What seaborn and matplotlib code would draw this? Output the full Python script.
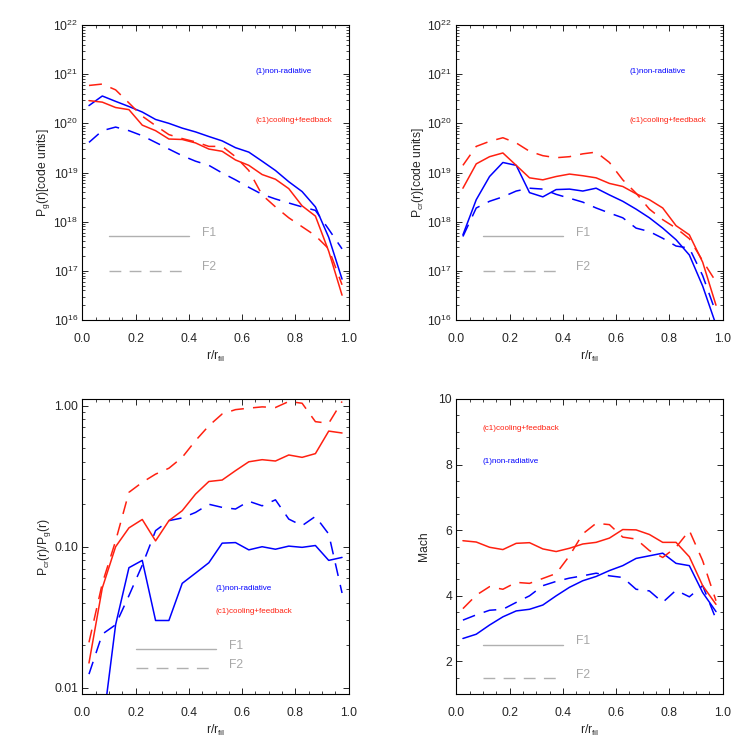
import numpy as np
import pandas as pd
import seaborn as sns
import matplotlib
matplotlib.use("Agg")
import matplotlib.pyplot as plt
from matplotlib.ticker import MultipleLocator, FixedLocator, FormatStrFormatter, LogLocator, NullFormatter

# radio normalizado (centros de bin)
r = [0.025, 0.075, 0.125, 0.175, 0.225, 0.275, 0.325, 0.375, 0.425, 0.475,
     0.525, 0.575, 0.625, 0.675, 0.725, 0.775, 0.825, 0.875, 0.925, 0.975]

# P_g(r)
pg_nr_f1 = [2.3e20, 3.6e20, 2.8e20, 2.2e20, 1.7e20, 1.2e20, 1.0e20, 8.0e19, 6.7e19, 5.4e19,
            4.4e19, 3.2e19, 2.6e19, 1.7e19, 1.1e19, 6.5e18, 4.1e18, 2.0e18, 4.8e17, 6.8e16]
pg_nr_f2 = [4.1e19, 7.1e19, 8.4e19, 7.1e19, 5.6e19, 4.1e19, 3.0e19, 2.2e19, 1.7e19, 1.4e19,
            9.8e18, 7.1e18, 5.0e18, 3.6e18, 2.9e18, 2.4e18, 2.0e18, 1.7e18, 7.0e17, 2.8e17]
pg_cf_f1 = [2.9e20, 2.7e20, 2.1e20, 1.9e20, 9.2e19, 7.1e19, 4.8e19, 4.7e19, 4.0e19, 3.0e19,
            2.7e19, 1.8e19, 1.4e19, 9.1e18, 7.3e18, 4.7e18, 2.1e18, 1.3e18, 2.5e17, 3.2e16]
pg_cf_f2 = [5.9e20, 6.3e20, 4.8e20, 2.6e20, 1.4e20, 9.0e19, 5.9e19, 4.9e19, 4.2e19, 3.4e19,
            3.4e19, 2.1e19, 1.1e19, 3.5e18, 2.0e18, 1.2e18, 7.9e17, 5.2e17, 2.8e17, 5.2e16]

# P_cr(r)
pcr_nr_f1 = [5.4e17, 2.8e18, 8.3e18, 1.6e19, 1.4e19, 3.9e18, 3.2e18, 4.5e18, 4.6e18, 4.2e18,
             4.8e18, 3.5e18, 2.6e18, 1.8e18, 1.2e18, 7.4e17, 4.3e17, 2.1e17, 4.9e16, 8.0e15]
pcr_nr_f2 = [5.0e17, 1.9e18, 2.6e18, 3.2e18, 4.2e18, 4.8e18, 4.6e18, 3.6e18, 3.0e18, 2.5e18,
             1.9e18, 1.5e18, 1.2e18, 7.4e17, 6.3e17, 4.6e17, 3.2e17, 2.9e17, 8.0e16, 1.4e16]
pcr_cf_f1 = [4.8e18, 1.5e19, 2.1e19, 2.5e19, 1.4e19, 7.8e18, 7.1e18, 8.3e18, 9.3e18, 8.6e18,
             7.8e18, 6.0e18, 5.2e18, 3.7e18, 2.8e18, 1.9e18, 8.3e17, 5.4e17, 1.5e17, 2.0e16]
pcr_cf_f2 = [1.4e19, 3.4e19, 4.3e19, 5.1e19, 4.0e19, 2.7e19, 2.2e19, 2.0e19, 2.1e19, 2.4e19,
             2.6e19, 1.6e19, 7.1e18, 3.8e18, 1.8e18, 1.1e18, 7.4e17, 4.5e17, 1.6e17, 6.0e16]

# P_cr/P_g
rat_nr_f1 = [np.nan, 0.005, 0.028, 0.071, 0.080, 0.030, 0.030, 0.055, 0.065, 0.077,
             0.106, 0.107, 0.095, 0.100, 0.096, 0.101, 0.099, 0.102, 0.080, 0.084]
rat_nr_f2 = [0.0125, 0.024, 0.028, 0.045, 0.074, 0.130, 0.153, 0.160, 0.175, 0.200,
             0.190, 0.185, 0.210, 0.195, 0.215, 0.157, 0.141, 0.164, 0.123, 0.047]
rat_cf_f1 = [0.015, 0.051, 0.100, 0.136, 0.156, 0.110, 0.153, 0.180, 0.236, 0.290,
             0.297, 0.346, 0.400, 0.414, 0.405, 0.447, 0.430, 0.457, 0.660, 0.640]
rat_cf_f2 = [0.021, 0.055, 0.110, 0.243, 0.286, 0.327, 0.360, 0.430, 0.565, 0.720,
             0.873, 0.937, 0.960, 0.980, 0.970, 1.070, 1.040, 0.770, 0.750, 1.070]

# Mach
mach_nr_f1 = [2.70, 2.83, 3.11, 3.36, 3.54, 3.59, 3.72, 4.00, 4.26, 4.46,
              4.59, 4.77, 4.92, 5.14, 5.22, 5.30, 4.99, 4.92, 4.10, 3.52]
mach_nr_f2 = [3.26, 3.42, 3.56, 3.59, 3.80, 4.00, 4.31, 4.44, 4.54, 4.61,
              4.69, 4.61, 4.56, 4.20, 4.15, 3.80, 4.17, 3.97, 4.31, 3.29]
mach_cf_f1 = [5.68, 5.64, 5.48, 5.41, 5.60, 5.62, 5.43, 5.35, 5.45, 5.58,
              5.63, 5.76, 6.02, 6.01, 5.87, 5.63, 5.63, 5.19, 4.31, 3.74]
mach_cf_f2 = [3.61, 4.02, 4.28, 4.20, 4.41, 4.38, 4.53, 4.68, 5.22, 5.89,
              6.21, 6.17, 5.79, 5.73, 5.38, 5.17, 5.48, 5.99, 5.07, 3.85]

etiqueta_nr = "(1)non-radiative"
etiqueta_cf = "(c1)cooling+feedback"

sns.set_style("ticks")
plt.rcParams["font.family"] = ["Liberation Sans", "DejaVu Sans"]
plt.rcParams["mathtext.default"] = "regular"
plt.rcParams.update({
    "xtick.direction": "in", "ytick.direction": "in",
    "xtick.top": True, "ytick.right": True,
    "xtick.major.size": 4.5, "ytick.major.size": 4.5,
    "xtick.minor.size": 2.2, "ytick.minor.size": 2.2,
    "xtick.major.width": 0.7, "ytick.major.width": 0.7,
    "xtick.minor.width": 0.6, "ytick.minor.width": 0.6,
    "axes.linewidth": 0.8, "axes.edgecolor": "black",
    "xtick.labelsize": 8.7, "ytick.labelsize": 8.7,
    "axes.labelsize": 8.7,
})

AZUL = "#0000ff"
ROJO = "#ff2010"
GRIS = "#b0b0b0"
GUIONES = (8.5, 6)


def armar_df(nr1, nr2, cf1, cf2):
    filas = []
    for modelo, fil, vals in [("nr", "F1", nr1), ("nr", "F2", nr2), ("cf", "F1", cf1), ("cf", "F2", cf2)]:
        for x, v in zip(r, vals):
            filas.append({"r": x, "v": v, "modelo": modelo, "fil": fil})
    return pd.DataFrame(filas)


def dibujar(ax, df):
    sns.lineplot(data=df, x="r", y="v", hue="modelo", style="fil",
                 palette={"nr": AZUL, "cf": ROJO},
                 dashes={"F1": "", "F2": GUIONES},
                 linewidth=1.1, legend=False, ax=ax, sort=False)


fig = plt.figure(figsize=(7.47, 7.47), dpi=100)
posiciones = [
    [0.1102, 0.5716, 0.3566, 0.3949],
    [0.6108, 0.5716, 0.3566, 0.3949],
    [0.1102, 0.0706, 0.3566, 0.3953],
    [0.6108, 0.0706, 0.3566, 0.3953],
]
axs = [fig.add_axes(p) for p in posiciones]

datos = [
    armar_df(pg_nr_f1, pg_nr_f2, pg_cf_f1, pg_cf_f2),
    armar_df(pcr_nr_f1, pcr_nr_f2, pcr_cf_f1, pcr_cf_f2),
    armar_df(rat_nr_f1, rat_nr_f2, rat_cf_f1, rat_cf_f2),
    armar_df(mach_nr_f1, mach_nr_f2, mach_cf_f1, mach_cf_f2),
]

for i, ax in enumerate(axs):
    if i < 3:
        ax.set_yscale("log")
    dibujar(ax, datos[i])
    ax.set_xlim(0, 1)
    ax.xaxis.set_major_locator(MultipleLocator(0.2))
    ax.xaxis.set_minor_locator(MultipleLocator(0.05))
    ax.xaxis.set_major_formatter(FormatStrFormatter("%.1f"))
    ax.set_xlabel("r/r$_{fil}$", labelpad=3)
    ax.tick_params(axis="x", which="major", pad=9)
    ax.tick_params(axis="y", which="major", pad=3)

# paneles superiores
for ax, ylab in [(axs[0], "P$_g$(r)[code units]"), (axs[1], "P$_{cr}$(r)[code units]")]:
    ax.set_ylim(1e16, 1e22)
    ax.yaxis.set_major_locator(LogLocator(base=10, numticks=10))
    ax.yaxis.set_minor_locator(LogLocator(base=10, subs=np.arange(2, 10), numticks=20))
    ax.yaxis.set_minor_formatter(NullFormatter())
    ax.set_ylabel(ylab, labelpad=1)
    ax.text(0.65, 10**21.045, etiqueta_nr, color=AZUL, fontsize=5.8, va="center")
    ax.text(0.65, 10**20.05, etiqueta_cf, color=ROJO, fontsize=5.8, va="center")
    ax.plot([0.1, 0.4], [5e17, 5e17], color=GRIS, lw=1.0)
    ax.plot([0.1, 0.4], [1e17, 1e17], color=GRIS, lw=1.0, dashes=GUIONES)
    ax.text(0.45, 10**17.77, "F1", color="#a8a8a8", fontsize=8.7, va="center")
    ax.text(0.45, 10**17.07, "F2", color="#a8a8a8", fontsize=8.7, va="center")

# cociente
ax = axs[2]
ax.set_ylim(0.009, 1.115)
ax.yaxis.set_major_locator(FixedLocator([0.01, 0.1, 1.0]))
ax.yaxis.set_major_formatter(FormatStrFormatter("%.2f"))
ax.yaxis.set_minor_locator(LogLocator(base=10, subs=np.arange(2, 10), numticks=20))
ax.yaxis.set_minor_formatter(NullFormatter())
ax.set_ylabel("P$_{cr}$(r)/P$_g$(r)", labelpad=1)
ax.text(0.5, 0.0507, etiqueta_nr, color=AZUL, fontsize=5.8, va="center")
ax.text(0.5, 0.0346, etiqueta_cf, color=ROJO, fontsize=5.8, va="center")
ax.plot([0.2, 0.5], [0.0187, 0.0187], color=GRIS, lw=1.0)
ax.plot([0.2, 0.5], [0.0138, 0.0138], color=GRIS, lw=1.0, dashes=GUIONES)
ax.text(0.55, 0.0199, "F1", color="#a8a8a8", fontsize=8.7, va="center")
ax.text(0.55, 0.01456, "F2", color="#a8a8a8", fontsize=8.7, va="center")

# Mach
ax = axs[3]
ax.set_ylim(1, 10)
ax.yaxis.set_major_locator(FixedLocator([2, 4, 6, 8, 10]))
ax.yaxis.set_minor_locator(MultipleLocator(0.5))
ax.set_ylabel("Mach", labelpad=6)
ax.text(0.1, 9.09, etiqueta_cf, color=ROJO, fontsize=5.8, va="center")
ax.text(0.1, 8.08, etiqueta_nr, color=AZUL, fontsize=5.8, va="center")
ax.plot([0.1, 0.4], [2.49, 2.49], color=GRIS, lw=1.0)
ax.plot([0.1, 0.4], [1.5, 1.5], color=GRIS, lw=1.0, dashes=GUIONES)
ax.text(0.45, 2.62, "F1", color="#a8a8a8", fontsize=8.7, va="center")
ax.text(0.45, 1.6, "F2", color="#a8a8a8", fontsize=8.7, va="center")

fig.savefig("out.png", dpi=100, facecolor="white")
plt.close(fig)
